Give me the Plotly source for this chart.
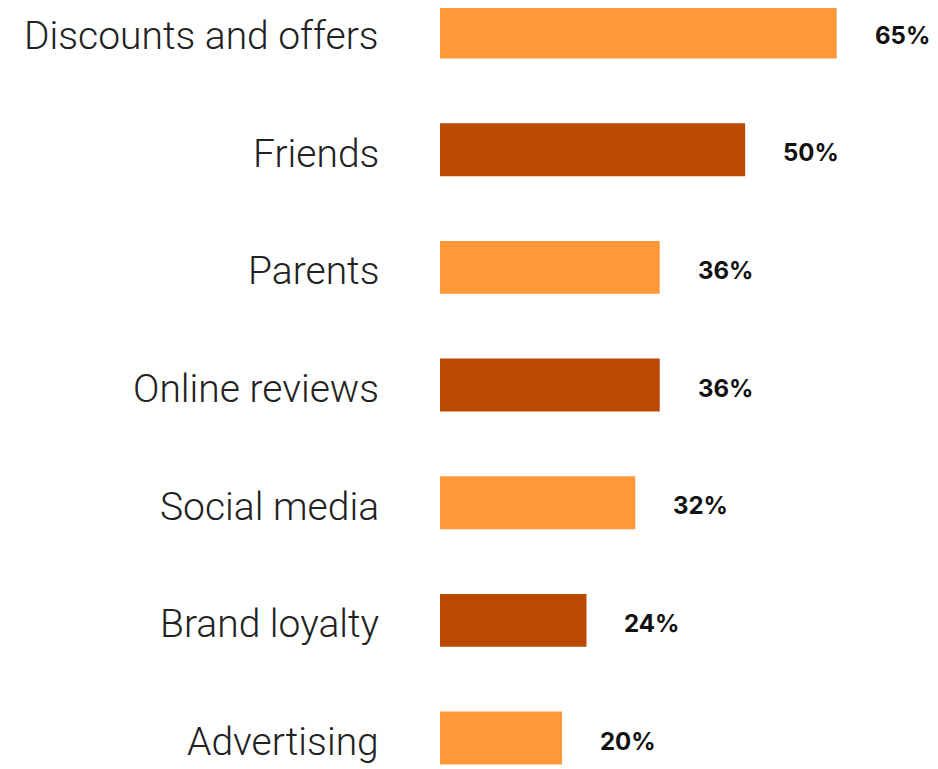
import plotly.graph_objects as go

categories = ["Discounts and offers", "Friends", "Parents", "Online reviews",
              "Social media", "Brand loyalty", "Advertising"]
values = [65, 50, 36, 36, 32, 24, 20]
value_labels = ["65%", "50%", "36%", "36%", "32%", "24%", "20%"]
colors = ["#FF9838", "#BB4A00", "#FF9838", "#BB4A00", "#FF9838", "#BB4A00", "#FF9838"]

fig = go.Figure()
fig.add_trace(go.Bar(
    x=values, y=categories, orientation="h",
    marker=dict(color=colors, line=dict(width=0)),
    width=0.45, hoverinfo="skip",
))

for c, v, t in zip(categories, values, value_labels):
    fig.add_annotation(x=v, y=c, text=t, showarrow=False, xanchor="left",
                       xshift=36, yshift=-3,
                       font=dict(family="Inter", size=24, color="#111111", weight=700))
    fig.add_annotation(x=0, xref="paper", y=c, text=c, showarrow=False, xanchor="right",
                       xshift=-59, yshift=-4,
                       font=dict(family="Roboto Light", size=39, color="#222222", weight=300))

fig.update_layout(
    width=930, height=761,
    margin=dict(l=432, r=0, t=0, b=0),
    paper_bgcolor="white", plot_bgcolor="white",
    showlegend=False,
    xaxis=dict(range=[0, 81.6], visible=False, fixedrange=True),
    yaxis=dict(
        type="category", categoryorder="array", categoryarray=categories,
        range=[6.263, -0.204], showgrid=False, zeroline=False, showline=False,
        ticks="", showticklabels=False,
    ),
)

fig.write_html("out.html")
